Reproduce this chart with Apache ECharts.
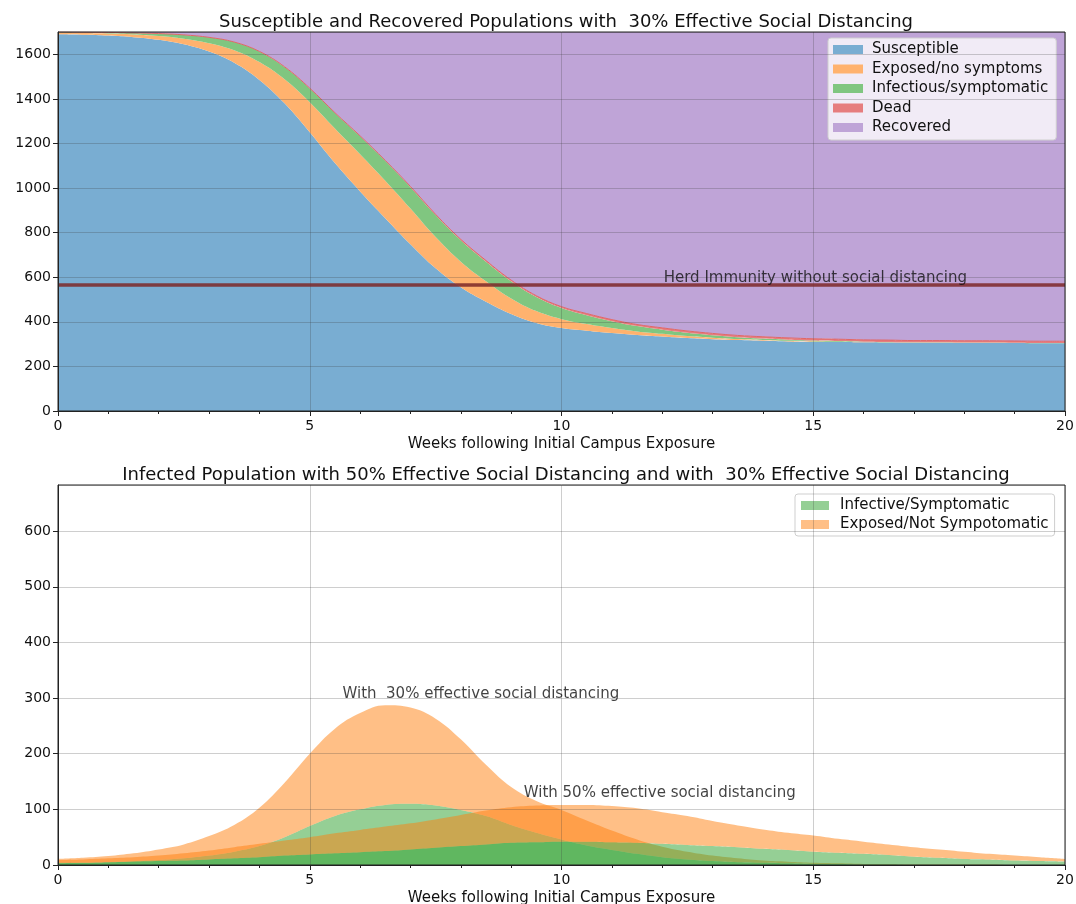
<!DOCTYPE html>
<html><head><meta charset="utf-8">
<script src="https://cdn.jsdelivr.net/npm/echarts@6/dist/echarts.min.js"></script>
<style>html,body{margin:0;padding:0;background:#fff}#c{width:1076px;height:904px}</style>
</head><body><div id="c"></div>
<script>
// ---------- DATA ----------
const weeks = [0,0.5,1,1.5,2,2.5,3,3.5,4,4.5,5,5.5,6,6.5,7,7.5,8,8.5,9,9.5,10,10.5,11,11.5,12,12.5,13,13.5,14,14.5,15,15.5,16,16.5,17,17.5,18,18.5,19,19.5,20];

// Top chart (30% effective social distancing), stacked populations
const susceptible = [1690,1688,1684,1677,1665,1645,1612,1562,1485,1380,1250,1112,985,865,748,640,555,490,435,395,372,360,350,341,334,327,322,318,315,312,310,309,308,307,306,306,305,305,305,304,304];
const exposed     = [7,7,9,12,17,25,38,56,80,108,135,155,167,168,160,140,115,92,70,53,40,30,22,16,12,9,7,5,4,3,2,2,1,1,1,1,1,1,0,0,0];
const infectious  = [3,4,5,7,11,17,26,37,48,55,62,70,80,89,96,99,96,88,77,63,50,40,31,24,19,15,11,8,6,5,4,3,2,2,1,1,1,1,1,1,1];
const dead        = [0,0,0,0,0,0,0,0,0,1,1,1,2,2,3,3,4,5,5,6,6,7,7,7,8,8,8,8,8,8,8,8,8,8,8,8,8,8,8,8,8];
const recovered   = [0,1,2,4,7,13,24,45,87,156,252,362,466,576,693,818,930,1025,1113,1183,1232,1263,1290,1312,1327,1341,1352,1361,1367,1372,1376,1378,1381,1382,1384,1384,1385,1385,1386,1387,1387];
const herdImmunityLevel = 566.67;

// Bottom chart: infected populations
const infective30 = [3,4,5,7,9,12,17,24,34,50,70,88,100,108,110,107,99,88,72,58,46,35,27,20,14,10,7,5,4,3,2,2,1,1,0,0,0,0,0,0,0];
const exposed30   = [8,9,11,14,19,25,35,48,69,98,130,157,173,179,173,156,127,92,68,57,53,45,35,26,19,14,10,7,4,3,2,1,1,1,1,1,1,1,0,0,0];
const infective50 = [4,4,5,6,7,8,10,12,14,17,19,21,23,25,28,31,34,37,40,41,42,42,41,40,38,36,34,32,29,27,24,22,20,18,15,13,11,10,8,7,6];
const exposed50   = [5,6,7,8,10,13,16,20,24,27,31,36,40,44,47,51,56,61,64,66,66,66,65,62,57,52,45,39,35,31,29,25,22,19,17,15,13,10,9,7,5];

const topTitle = 'Susceptible and Recovered Populations with  30% Effective Social Distancing';
const bottomTitle = 'Infected Population with 50% Effective Social Distancing and with  30% Effective Social Distancing';
const xName = 'Weeks following Initial Campus Exposure';
const herdText = 'Herd Immunity without social distancing';
const note30 = 'With  30% effective social distancing';
const note50 = 'With 50% effective social distancing';
const note30Pos = [5.64, 307];
const note50Pos = [9.24, 129];
const herdTextPos = [12.02, 596];

// ---------- CHART ----------
const FONT = 'DejaVu Sans';
const TXT = '#111';
// value first, week second (encode maps x to column 1) so the library stacks the values
const pairs = arr => weeks.map((w, i) => [arr[i], w]);

function xAxis(gi, nameGap) {
  return {
    type: 'value', gridIndex: gi, min: 0, max: 20, interval: 5, z: 5,
    axisLine: {show: true, onZero: false, lineStyle: {color: '#222'}},
    axisTick: {show: true, length: 5, lineStyle: {color: '#222'}},
    minorTick: {show: true, splitNumber: 5, length: 3, lineStyle: {color: '#222'}},
    splitLine: {show: true, lineStyle: {color: 'rgba(60,60,60,0.25)', width: 1}},
    axisLabel: {color: TXT, fontSize: 14, fontFamily: FONT, margin: 8},
    name: xName, nameLocation: 'middle', nameGap: nameGap,
    nameTextStyle: {color: TXT, fontSize: 15, fontFamily: FONT}
  };
}
function yAxis(gi, max, interval) {
  return {
    type: 'value', gridIndex: gi, min: 0, max: max, interval: interval, z: 5,
    axisLine: {show: true, lineStyle: {color: '#222'}},
    axisTick: {show: true, length: 5, lineStyle: {color: '#222'}},
    splitLine: {show: true, lineStyle: {color: 'rgba(60,60,60,0.25)', width: 1}},
    axisLabel: {color: TXT, fontSize: 14, fontFamily: FONT, margin: 7, showMaxLabel: false,
                formatter: v => String(v)}
  };
}
function area(name, data, color, stack, xi, extra) {
  return Object.assign({
    type: 'line', name: name, data: pairs(data), encode: {x: 1, y: 0}, stack: stack,
    xAxisIndex: xi, yAxisIndex: xi, symbol: 'none', smooth: 0.4,
    lineStyle: {width: 0}, itemStyle: {color: color},
    areaStyle: {color: color, opacity: 1}, silent: true
  }, extra || {});
}
function note(text, pos, gi) {
  return {
    type: 'scatter', xAxisIndex: gi, yAxisIndex: gi, data: [pos], symbolSize: 1,
    itemStyle: {color: 'rgba(0,0,0,0)'}, silent: true, z: 10,
    label: {show: true, position: 'right', distance: 0, formatter: text,
            color: TXT, fontSize: 15, fontFamily: FONT}
  };
}

const C = {blue: '#79add2', orange: '#ffb26e', green: '#80c680', red: '#e67d7e', purple: '#bfa4d7'};
const G = 'rgba(44,160,44,0.5)', O = 'rgba(255,127,14,0.5)';

const herdNote = note(herdText, herdTextPos, 0);
herdNote.markLine = {
  symbol: 'none', silent: true, label: {show: false},
  lineStyle: {color: 'rgba(125,40,40,0.85)', width: 3.5, type: 'solid'},
  data: [{yAxis: herdImmunityLevel}]
};

const option = {
  animation: false,
  backgroundColor: '#fff',
  textStyle: {fontFamily: FONT},
  title: [
    {text: topTitle, left: 561, top: 8, textAlign: 'center',
     textStyle: {color: TXT, fontSize: 18, fontWeight: 'normal', fontFamily: FONT}},
    {text: bottomTitle, left: 561, top: 461, textAlign: 'center',
     textStyle: {color: TXT, fontSize: 18, fontWeight: 'normal', fontFamily: FONT}}
  ],
  grid: [
    {left: 58, top: 32, width: 1007, height: 379, show: true, z: 10, outerBoundsMode: 'none',
     containLabel: false, borderColor: '#222', borderWidth: 1, backgroundColor: 'rgba(0,0,0,0)'},
    {left: 58, top: 485, width: 1007, height: 380, show: true, z: 10, outerBoundsMode: 'none',
     containLabel: false, borderColor: '#222', borderWidth: 1, backgroundColor: 'rgba(0,0,0,0)'}
  ],
  legend: [
    {orient: 'vertical', left: 828, top: 38, selectedMode: false,
     data: ['Susceptible', 'Exposed/no symptoms', 'Infectious/symptomatic', 'Dead', 'Recovered'],
     itemWidth: 30, itemHeight: 9, itemGap: 4.5, icon: 'rect',
     backgroundColor: 'rgba(255,255,255,0.78)', borderColor: '#cfcfcf', borderWidth: 1, borderRadius: 3,
     padding: [4, 8, 5, 5],
     textStyle: {color: TXT, fontSize: 15, fontFamily: FONT, lineHeight: 15, padding: [0, 0, 0, 4]}},
    {orient: 'vertical', left: 795, top: 494, selectedMode: false,
     data: ['Infective/Symptomatic', 'Exposed/Not Sympotomatic'],
     itemWidth: 28, itemHeight: 9, itemGap: 4, icon: 'rect',
     backgroundColor: 'rgba(255,255,255,0.8)', borderColor: '#cfcfcf', borderWidth: 1, borderRadius: 3,
     padding: [4, 6, 4, 6],
     textStyle: {color: TXT, fontSize: 15, fontFamily: FONT, lineHeight: 15, padding: [0, 0, 0, 6]}}
  ],
  xAxis: [xAxis(0, 26), xAxis(1, 26)],
  yAxis: [yAxis(0, 1700, 200), yAxis(1, 683, 100)],
  series: [
    area('Susceptible', susceptible, C.blue, 'top', 0),
    area('Exposed/no symptoms', exposed, C.orange, 'top', 0),
    area('Infectious/symptomatic', infectious, C.green, 'top', 0),
    area('Dead', dead, C.red, 'top', 0, {lineStyle: {width: 1, color: '#e06666'}}),
    area('Recovered', recovered, C.purple, 'top', 0),
    herdNote,
    area('Infective/Symptomatic', infective30, G, 's30', 1),
    area('Exposed/Not Sympotomatic', exposed30, O, 's30', 1),
    area('Infective/Symptomatic', infective50, G, 's50', 1),
    area('Exposed/Not Sympotomatic', exposed50, O, 's50', 1),
    note(note30, note30Pos, 1),
    note(note50, note50Pos, 1)
  ]
};
const chart = echarts.init(document.getElementById('c'), null, {renderer: 'canvas'});
chart.setOption(option);
</script>
</body></html>
